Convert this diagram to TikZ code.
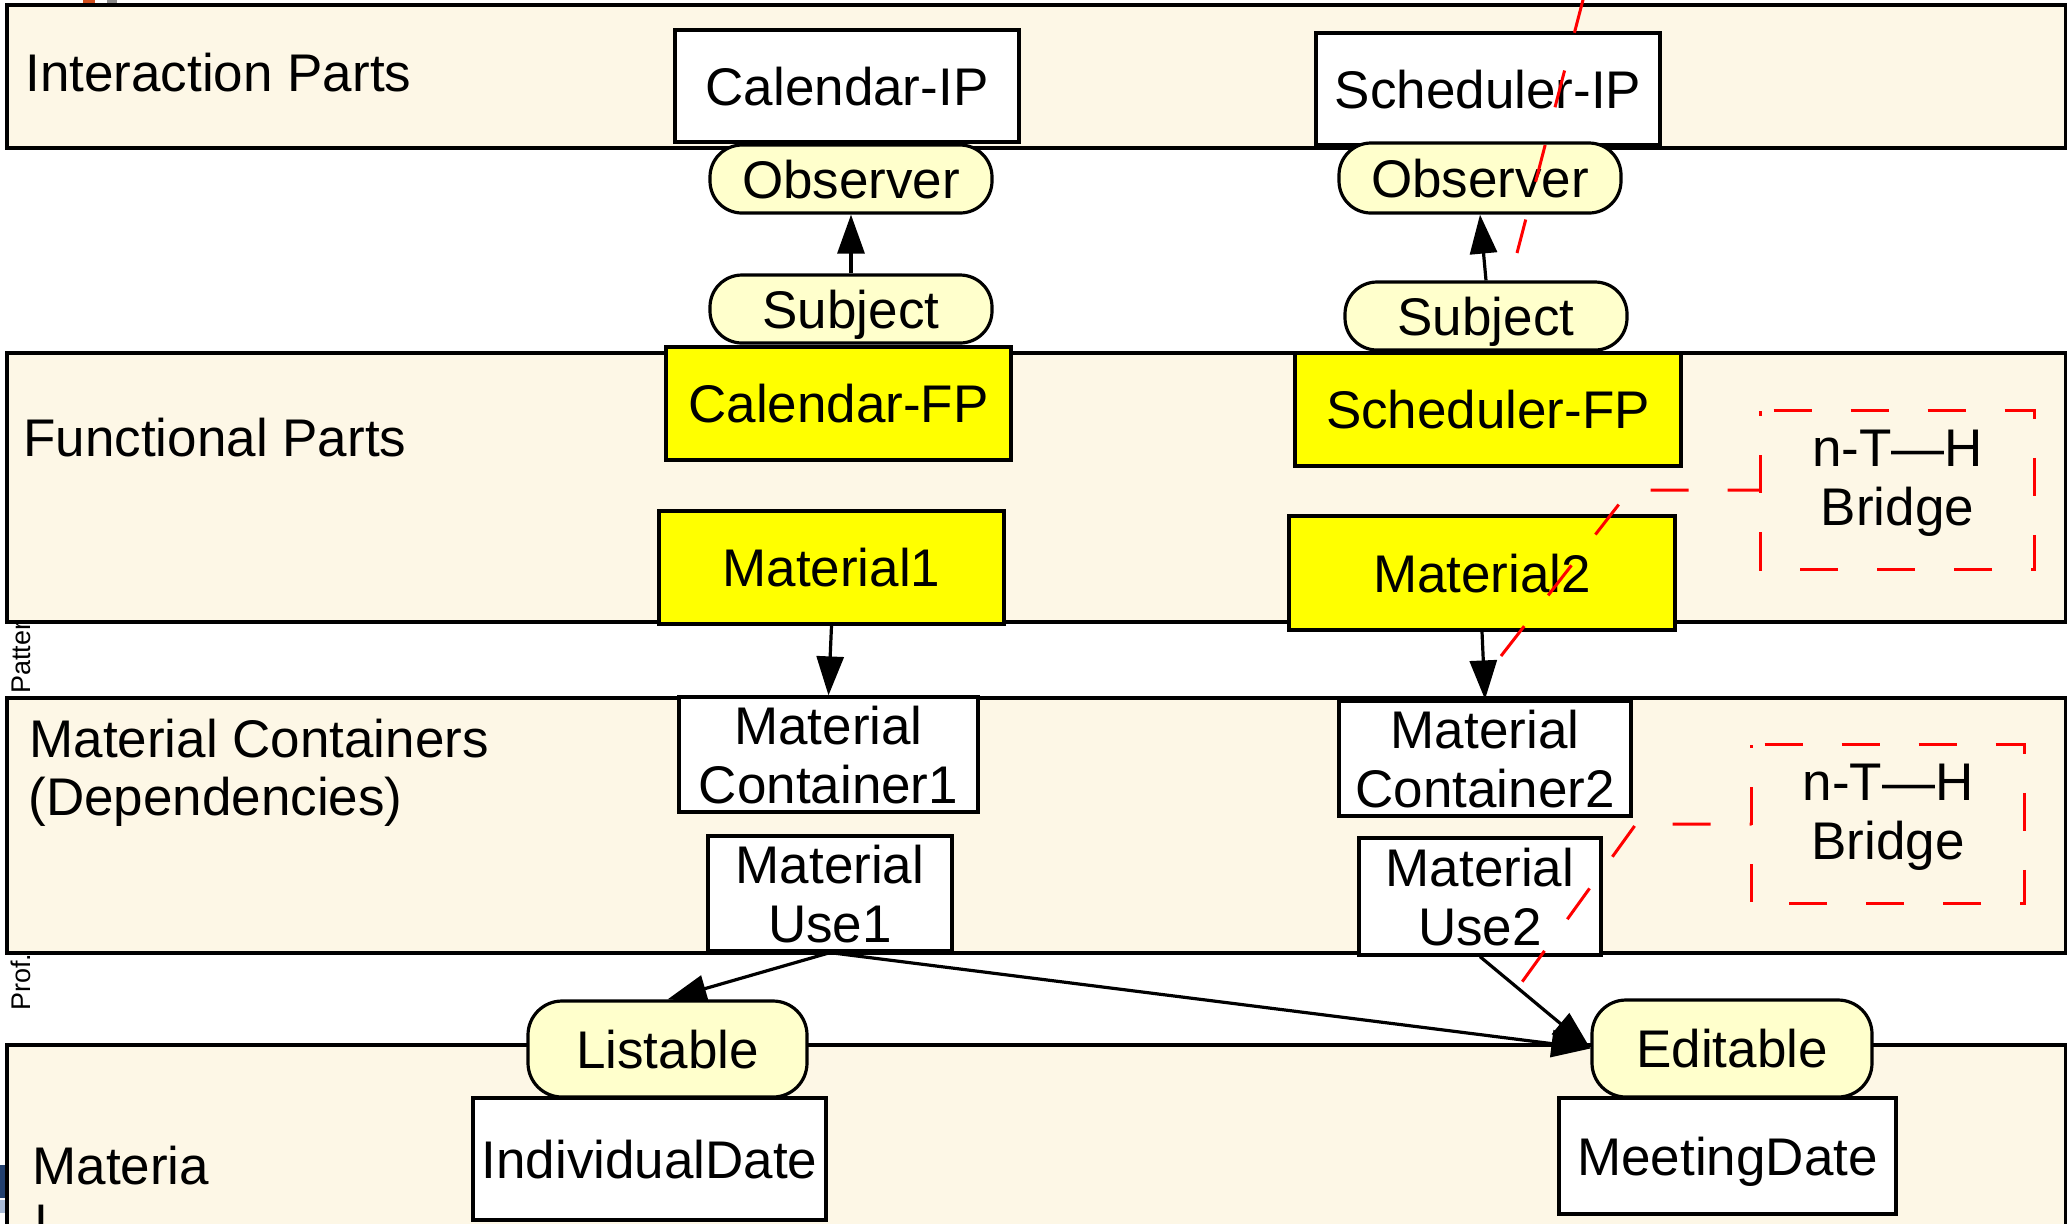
\documentclass[tikz,border=0pt]{standalone}
\usepackage{fontspec}
\setmainfont{Liberation Sans}
\usetikzlibrary{arrows.meta}

\definecolor{bandfill}{HTML}{FDF7E6}
\definecolor{roleyellow}{HTML}{FFFFCC}
\definecolor{partyellow}{HTML}{FFFF00}
\definecolor{dashred}{HTML}{FF0000}
\definecolor{fragorange}{HTML}{D2501E}
\definecolor{fraggray}{HTML}{8A8A8A}
\definecolor{logoblue}{HTML}{22406E}
\definecolor{logolight}{HTML}{A9BBD6}

\newcommand\partfont{\fontsize{26.5pt}{29.5pt}\selectfont}
\newcommand\edgefont{\fontsize{13.5pt}{16pt}\selectfont}

\tikzset{
  band/.style={draw=black, line width=1.7pt, fill=bandfill},
  bandlabel/.style={anchor=base west, inner sep=0pt, font=\partfont},
  edgetext/.style={rotate=90, anchor=base west, inner sep=0pt, font=\edgefont},
  plainbox/.style={draw=black, line width=1.6pt, fill=white, inner sep=0pt,
    align=center, font=\partfont, text depth=0pt},
  partbox/.style={plainbox, fill=partyellow},
  rolebox/.style={plainbox, fill=roleyellow, rounded corners=16pt},
  bridgebox/.style={inner sep=0pt, align=center, font=\partfont, text depth=12.5pt},
  redline/.style={draw=dashred, line width=1.5pt, dash pattern=on 19pt off 19.5pt},
  uses/.style={line width=1.6pt, -{Triangle[length=19.5pt,width=13.5pt]}},
}

\begin{document}
\begin{tikzpicture}[x=0.5pt, y=-0.5pt]
\useasboundingbox (0,0) rectangle (2067,1223);
\clip (0,0) rectangle (2067,1223);

% fragments at the page edges
\fill[fragorange] (83,0) rectangle (95,5);
\fill[fraggray] (107,0) rectangle (117,5);
\fill[logoblue] (0,1165) rectangle (7,1198);
\fill[logolight] (0,1200) rectangle (5,1213);
\node[edgetext] (sidetop) at (30,694) {Patter};
\node[edgetext] (sidebottom) at (30,1011) {Prof.};

% layer bands
\draw[band] (7,5) rectangle (2066,148);
\draw[band] (7,353) rectangle (2066,622);
\draw[band] (7,698) rectangle (2066,953);
\draw[band] (7,1045) rectangle (2066,1260);

\node[bandlabel] (lblip) at (25,91) {Interaction Parts};
\node[bandlabel] (lblfp) at (23,456) {Functional Parts};
\node[bandlabel] (lblmc) at (29,757) {Material Containers};
\node[bandlabel] (lbldep) at (28,815) {(Dependencies)};
\node[bandlabel] (lblma) at (32,1184) {Materia};
\node[bandlabel] (lblmb) at (35,1243) {l};

% interaction parts
\node[plainbox, minimum width=172pt, minimum height=56pt] (calip) at (847,86) {Calendar-IP};
\node[plainbox, minimum width=172pt, minimum height=56pt] (schip) at (1488,89) {Scheduler-IP};
\node[rolebox, minimum width=141pt, minimum height=34pt] (obs1) at (851,179) {Observer};
\node[rolebox, minimum width=141pt, minimum height=35pt] (obs2) at (1480,178) {Observer};
\node[rolebox, minimum width=141pt, minimum height=34pt] (subj1) at (851,309) {Subject};
\node[rolebox, minimum width=141pt, minimum height=34pt] (subj2) at (1486,316) {Subject};

% functional parts
\node[partbox, minimum width=172.5pt, minimum height=56.5pt] (calfp) at (838.5,403.5) {Calendar-FP};
\node[partbox, minimum width=193pt, minimum height=56.5pt] (schfp) at (1488,409.5) {Scheduler-FP};
\node[partbox, minimum width=172.5pt, minimum height=56.5pt] (mat1) at (831.5,567.5) {Material1};
\node[partbox, minimum width=193pt, minimum height=57pt] (mat2) at (1482,573) {Material2};
\node[bridgebox, minimum width=136.5pt, minimum height=79pt] (bridge1) at (1897.5,490) {n-T—H\\Bridge};

% material containers
\node[plainbox, minimum width=149.5pt, minimum height=57.5pt] (cont1) at (828.5,754.5) {Material\\Container1};
\node[plainbox, minimum width=146pt, minimum height=57.5pt] (cont2) at (1485,758.5) {Material\\Container2};
\node[plainbox, minimum width=122pt, minimum height=57.5pt] (use1) at (830,893.5) {Material\\Use1};
\node[plainbox, minimum width=121pt, minimum height=58.5pt] (use2) at (1480,896.5) {Material\\Use2};
\node[bridgebox, minimum width=136pt, minimum height=79pt] (bridge2) at (1888,824) {n-T—H\\Bridge};

% materials
\node[rolebox, rounded corners=17pt, minimum width=139.5pt, minimum height=48pt] (listable) at (667.5,1049) {Listable};
\node[rolebox, rounded corners=17pt, minimum width=140pt, minimum height=48.5pt] (editable) at (1732,1048.5) {Editable};
\node[plainbox, minimum width=176.5pt, minimum height=61pt] (indiv) at (649.5,1159) {IndividualDate};
\node[plainbox, minimum width=168.5pt, minimum height=58pt] (meeting) at (1727.5,1156) {MeetingDate};

% dependencies
\draw[uses] (subj1.north) -- (obs1.south);
\draw[uses] (subj2.north) -- (obs2.south);
\draw[uses] (mat1.south) -- (cont1.north);
\draw[uses] (mat2.south) -- (cont2.north);
\draw[uses] (use1.south) -- (listable.north);
\draw[uses] (use1.south) -- (editable.west);
\draw[uses] (use2.south) -- (editable.west);

% bridge frames and their red dashed links
\draw[redline, dash phase=32pt] (bridge1.north west) -- (bridge1.north east)
  -- (bridge1.south east) -- (bridge1.south west) -- cycle;
\draw[redline, dash phase=32pt] (bridge2.north west) -- (bridge2.north east)
  -- (bridge2.south east) -- (bridge2.south west) -- cycle;

\coordinate (b1bend) at (1630,490);
\coordinate (b1end) at (1501,656);
\draw[redline, dash phase=2.5pt] (bridge1.west) -- (b1bend) -- (b1end);

\coordinate (b2bend) at (1636,824);
\coordinate (b2end) at (1522,982);
\draw[redline, dash phase=18pt] (bridge2.west) -- (b2bend) -- (b2end);

\coordinate (redtop) at (1584,-4);
\coordinate (redtopend) at (1517,253);
\draw[redline] (redtop) -- (redtopend);
\end{tikzpicture}
\end{document}
